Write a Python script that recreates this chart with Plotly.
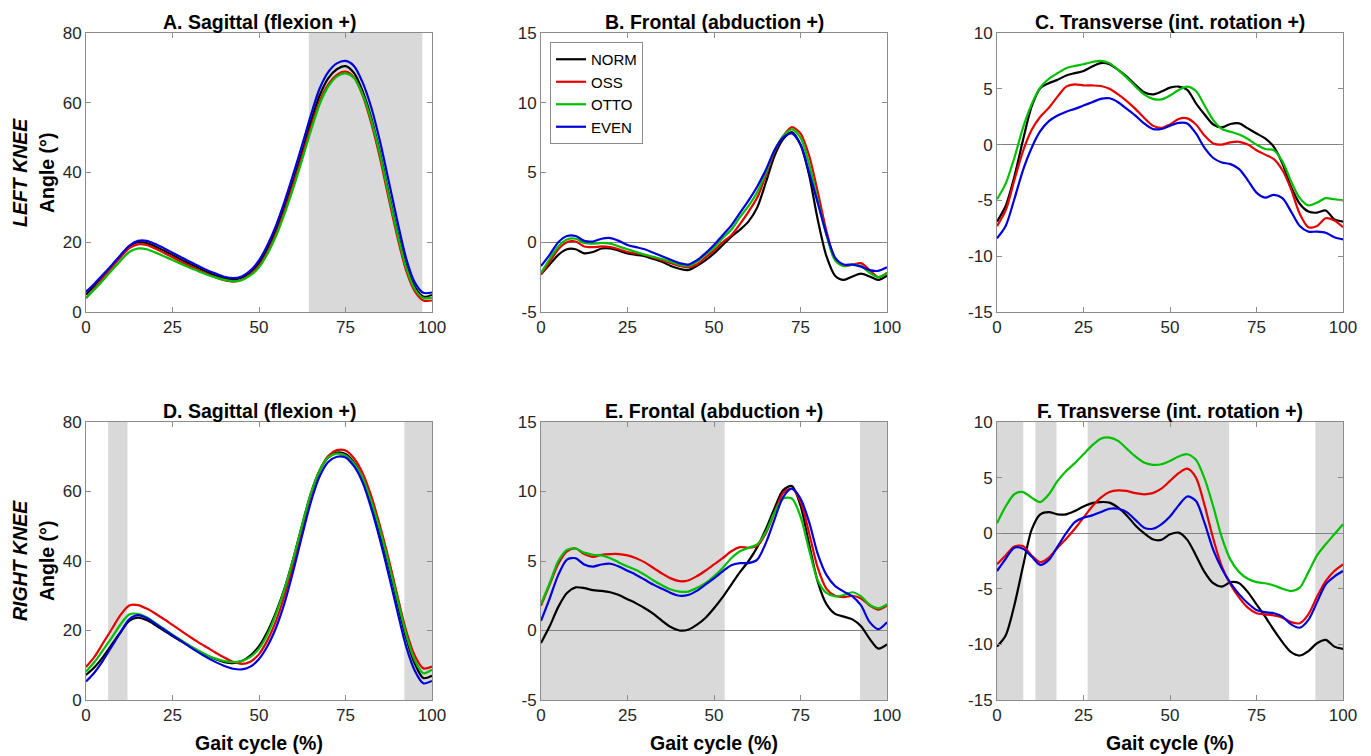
import plotly.graph_objects as go
from plotly.subplots import make_subplots

# ---------------- data ----------------
GAIT = [0, 2.5, 5, 7.5, 10, 12.5, 15, 17.5, 20, 22.5, 25, 27.5, 30, 32.5, 35, 37.5, 40,
        42.5, 45, 47.5, 50, 52.5, 55, 57.5, 60, 62.5, 65, 67.5, 70, 72.5, 75, 77.5, 80,
        82.5, 85, 87.5, 90, 92.5, 95, 97.5, 100]

GROUPS = ["NORM", "OSS", "OTTO", "EVEN"]

# A. Left knee sagittal
A_NORM = [5.0, 7.7, 10.5, 13.3, 16.2, 18.8, 20.0, 19.8, 18.8, 17.6, 16.3, 15.0, 13.8, 12.6, 11.5, 10.5, 9.7,
          9.3, 9.8, 11.4, 14.0, 18.3, 23.8, 30.5, 38.0, 46.0, 54.5, 62.0, 67.0, 69.6, 70.5, 68.5, 63.2,
          55.5, 45.5, 34.0, 23.0, 13.5, 7.2, 4.4, 4.9]
A_OSS = [4.0, 6.8, 9.8, 12.8, 15.7, 18.3, 19.4, 19.2, 18.2, 17.0, 15.7, 14.4, 13.2, 12.0, 10.9, 9.9, 9.1,
         8.7, 9.2, 10.7, 13.2, 17.3, 22.7, 29.3, 36.8, 44.8, 53.0, 60.3, 65.2, 68.0, 68.9, 67.2, 62.0,
         54.0, 44.0, 32.5, 21.5, 12.0, 6.0, 3.3, 3.3]
A_OTTO = [4.0, 6.5, 9.2, 12.0, 14.7, 17.2, 18.2, 18.0, 17.1, 16.0, 14.9, 13.8, 12.7, 11.7, 10.7, 9.9, 9.2,
          8.8, 9.2, 10.5, 12.8, 16.8, 22.0, 28.5, 35.8, 43.8, 52.0, 59.5, 64.6, 67.5, 68.4, 67.0, 62.3,
          54.8, 45.0, 33.5, 22.5, 12.8, 6.6, 4.0, 4.1]
A_EVEN = [5.8, 8.2, 10.8, 13.5, 16.3, 19.0, 20.4, 20.4, 19.5, 18.3, 17.0, 15.7, 14.4, 13.2, 12.0, 11.0, 10.1,
          9.7, 10.2, 11.9, 14.8, 19.3, 25.0, 32.0, 39.8, 48.0, 56.5, 64.0, 68.8, 71.3, 72.0, 70.5, 65.7,
          58.5, 48.8, 37.5, 26.0, 15.5, 8.5, 5.5, 5.6]

# B. Left knee frontal
B_NORM = [-2.3, -1.6, -0.9, -0.5, -0.5, -0.8, -0.7, -0.45, -0.45, -0.6, -0.8, -0.9, -1.0, -1.2, -1.4, -1.7, -1.9,
          -2.0, -1.7, -1.3, -0.8, -0.2, 0.4, 0.9, 1.5, 2.5, 4.3, 6.2, 7.4, 7.9, 7.0, 4.8, 1.6,
          -1.0, -2.4, -2.7, -2.45, -2.25, -2.45, -2.7, -2.4]
B_OSS = [-2.3, -1.4, -0.5, 0.0, 0.05, -0.3, -0.35, -0.3, -0.35, -0.5, -0.7, -0.8, -0.9, -1.1, -1.3, -1.5, -1.7,
         -1.8, -1.6, -1.1, -0.6, 0.0, 0.5, 1.3, 2.2, 3.2, 4.8, 6.5, 7.6, 8.25, 7.8, 6.2, 3.6,
         0.8, -1.2, -1.7, -1.6, -1.5, -2.0, -2.5, -2.2]
B_OTTO = [-2.2, -1.2, -0.3, 0.2, 0.25, -0.05, -0.1, -0.05, -0.1, -0.3, -0.5, -0.7, -0.9, -1.05, -1.2, -1.4, -1.6,
          -1.7, -1.4, -0.9, -0.4, 0.3, 0.9, 1.8, 2.6, 3.6, 5.0, 6.6, 7.6, 8.1, 7.5, 5.6, 3.0,
          0.5, -1.3, -1.7, -1.6, -1.7, -2.2, -2.5, -2.2]
B_EVEN = [-1.7, -0.9, 0.0, 0.45, 0.45, 0.1, 0.05, 0.25, 0.3, 0.1, -0.2, -0.35, -0.5, -0.75, -1.0, -1.25, -1.5,
          -1.6, -1.3, -0.8, -0.2, 0.5, 1.2, 2.1, 3.0, 4.0, 5.2, 6.6, 7.5, 7.8, 7.0, 5.0, 2.8,
          0.6, -1.1, -1.6, -1.6, -1.75, -2.0, -2.05, -1.8]

# C. Left knee transverse
C_NORM = [-6.9, -5.5, -2.9, 0.4, 3.4, 5.05, 5.5, 5.8, 6.2, 6.4, 6.6, 7.0, 7.3, 7.2, 6.7, 6.1, 5.35,
          4.7, 4.5, 4.75, 5.1, 5.2, 4.9, 3.7, 2.7, 1.8, 1.55, 1.85, 1.9, 1.45, 1.0, 0.55, -0.2,
          -1.7, -3.8, -5.3, -6.0, -6.1, -5.9, -6.7, -6.9]
C_OSS = [-7.3, -5.9, -3.2, -0.6, 1.3, 2.5, 3.3, 4.3, 5.2, 5.4, 5.3, 5.3, 5.25, 5.0, 4.5, 3.9, 3.2,
         2.4, 1.7, 1.5, 1.8, 2.3, 2.35, 1.8, 0.8, 0.1, 0.0, 0.2, 0.25, 0.0, -0.5, -0.9, -1.3,
         -2.3, -4.0, -6.2, -7.4, -7.3, -6.6, -6.8, -7.4]
C_OTTO = [-4.9, -3.5, -1.2, 1.5, 3.6, 5.1, 5.9, 6.4, 6.85, 7.05, 7.2, 7.4, 7.5, 7.3, 6.7, 6.0, 5.2,
          4.5, 4.1, 4.05, 4.4, 4.9, 5.2, 4.8, 3.5, 2.2, 1.4, 1.15, 0.9, 0.5, 0.0, -0.4, -0.5,
          -1.5, -3.3, -4.8, -5.45, -5.2, -4.8, -4.9, -5.0]
C_EVEN = [-8.4, -7.3, -4.9, -2.3, -0.3, 1.2, 2.1, 2.6, 2.95, 3.2, 3.5, 3.8, 4.1, 4.15, 3.8, 3.2, 2.6,
          1.9, 1.4, 1.4, 1.7, 1.95, 1.9, 1.0, -0.3, -1.2, -1.6, -1.75, -2.2, -3.2, -4.3, -4.75, -4.5,
          -4.8, -6.0, -7.3, -7.8, -7.8, -7.9, -8.3, -8.5]

# D. Right knee sagittal
D_NORM = [7.2, 9.5, 12.5, 16.0, 19.5, 22.8, 23.7, 23.0, 21.6, 20.0, 18.4, 16.9, 15.4, 14.0, 12.8, 11.7, 10.9,
          10.6, 11.2, 12.8, 15.5, 19.8, 25.5, 32.5, 41.0, 50.5, 59.5, 66.0, 69.8, 71.2, 70.8, 68.3, 63.6,
          56.5, 48.0, 38.5, 28.0, 18.0, 10.5, 6.3, 7.0]
D_OSS = [9.5, 12.5, 16.5, 20.5, 24.5, 27.2, 27.3, 26.3, 24.9, 23.3, 21.6, 19.9, 18.2, 16.6, 15.1, 13.6, 12.2,
         11.0, 10.4, 11.0, 13.2, 17.3, 23.0, 30.5, 39.5, 49.5, 59.0, 66.0, 70.2, 71.9, 71.8, 69.5, 65.2,
         58.5, 50.0, 40.5, 30.0, 20.0, 12.8, 9.1, 9.6]
D_OTTO = [8.2, 11.0, 14.5, 18.0, 21.8, 24.6, 24.8, 23.8, 22.2, 20.5, 18.8, 17.2, 15.6, 14.2, 12.9, 11.9, 11.2,
          10.9, 11.2, 12.4, 14.8, 19.0, 25.0, 32.3, 41.0, 50.5, 59.5, 66.0, 69.8, 70.9, 70.4, 68.0, 63.8,
          57.0, 48.8, 39.3, 29.0, 19.0, 11.5, 7.7, 8.7]
D_EVEN = [5.3, 8.0, 11.5, 15.5, 19.5, 23.2, 24.4, 23.6, 22.0, 20.3, 18.6, 17.0, 15.3, 13.7, 12.2, 10.9, 9.8,
          9.0, 8.8, 9.6, 11.8, 15.6, 21.0, 28.3, 37.5, 47.5, 57.0, 64.3, 68.5, 70.0, 69.8, 67.2, 62.5,
          55.0, 46.0, 36.0, 25.5, 15.5, 8.5, 4.8, 5.5]

# E. Right knee frontal
E_NORM = [-0.9, 0.3, 1.7, 2.7, 3.1, 3.05, 2.9, 2.85, 2.75, 2.55, 2.25, 1.95, 1.6, 1.2, 0.7, 0.25, 0.0,
          0.05, 0.4, 0.9, 1.6, 2.4, 3.3, 4.2, 5.0, 6.0, 7.3, 8.8, 10.1, 10.4, 9.0, 6.2, 3.5,
          1.9, 1.2, 1.0, 0.8, 0.3, -0.6, -1.3, -1.0]
E_OSS = [1.8, 3.3, 4.8, 5.7, 5.9, 5.5, 5.3, 5.45, 5.5, 5.5, 5.4, 5.2, 4.9, 4.5, 4.1, 3.75, 3.55,
         3.6, 3.9, 4.3, 4.75, 5.2, 5.7, 6.0, 5.95, 6.1, 7.0, 8.5, 9.9, 10.2, 9.3, 7.0, 4.5,
         3.0, 2.5, 2.4, 2.5, 2.3, 1.8, 1.5, 1.8]
E_OTTO = [1.9, 3.4, 5.0, 5.8, 5.9, 5.6, 5.45, 5.4, 5.2, 4.9, 4.6, 4.35, 4.0, 3.6, 3.25, 2.95, 2.8,
          2.8, 3.05, 3.4, 3.9, 4.5, 5.2, 5.7, 5.95, 6.2, 7.1, 8.5, 9.5, 9.5, 8.2, 5.8, 3.6,
          2.7, 2.45, 2.55, 2.75, 2.45, 1.85, 1.6, 1.9]
E_EVEN = [0.7, 2.3, 4.0, 5.1, 5.2, 4.75, 4.6, 4.75, 4.8, 4.6, 4.3, 4.0, 3.65, 3.3, 3.0, 2.7, 2.5,
          2.55, 2.85, 3.3, 3.75, 4.25, 4.7, 4.85, 4.85, 5.1, 6.3, 8.0, 9.6, 10.2, 9.5, 7.8, 5.5,
          4.0, 3.2, 2.8, 2.45, 1.8, 0.6, 0.1, 0.6]

# F. Right knee transverse
F_NORM = [-10.2, -9.2, -6.5, -3.0, 0.3, 1.7, 1.9, 1.7, 1.7, 2.0, 2.4, 2.7, 2.8, 2.75, 2.3, 1.6, 0.7,
          0.0, -0.55, -0.6, -0.1, 0.05, -0.6, -2.0, -3.5, -4.5, -4.8, -4.4, -4.5, -5.3, -6.4, -7.5, -8.7,
          -9.8, -10.7, -11.0, -10.6, -9.9, -9.6, -10.2, -10.4]
F_OSS = [-2.8, -2.0, -1.2, -1.15, -2.0, -2.6, -2.2, -1.3, -0.5, 0.4, 1.4, 2.4, 3.2, 3.7, 3.85, 3.8, 3.6,
         3.5, 3.6, 4.0, 4.7, 5.4, 5.8, 5.0, 2.5, -0.5, -3.0, -4.6, -5.8, -6.7, -7.2, -7.3, -7.4,
         -7.6, -8.0, -8.1, -7.3, -5.7, -4.3, -3.4, -2.8]
F_OTTO = [0.9, 2.4, 3.5, 3.7, 3.2, 2.8, 3.5, 4.7, 5.6, 6.3, 7.1, 7.9, 8.5, 8.6, 8.3, 7.6, 6.9,
          6.35, 6.15, 6.2, 6.5, 6.9, 7.1, 6.6, 4.9, 2.4, -0.4, -2.4, -3.5, -4.1, -4.4, -4.5, -4.7,
          -5.0, -5.2, -4.9, -3.5, -2.0, -1.0, -0.1, 0.8]
F_EVEN = [-3.4, -2.3, -1.3, -1.4, -2.1, -2.85, -2.4, -1.2, 0.0, 1.0, 1.4, 1.6, 1.9, 2.2, 2.2, 1.9, 1.2,
          0.5, 0.4, 0.8, 1.5, 2.5, 3.3, 2.9, 0.9, -1.5, -3.2, -4.5, -5.5, -6.3, -6.9, -7.1, -7.2,
          -7.5, -8.2, -8.5, -7.8, -6.2, -4.6, -3.9, -3.4]

# shaded (significant) intervals, gait cycle %
A_SHADE = [(64.4, 97.2)]
B_SHADE = []
C_SHADE = []
D_SHADE = [(6.4, 12.0), (92.0, 100)]
E_SHADE = [(0, 53.1), (92.2, 100)]
F_SHADE = [(0, 7.6), (11.1, 17.2), (26.2, 67.1), (92.0, 100)]

TITLES = ["A. Sagittal (flexion +)", "B. Frontal (abduction +)", "C. Transverse (int. rotation +)",
          "D. Sagittal (flexion +)", "E. Frontal (abduction +)", "F. Transverse (int. rotation +)"]

X_TICKS = [0, 25, 50, 75, 100]
Y_TICKS_SAG = [0, 20, 40, 60, 80]
Y_TICKS_FRO = [-5, 0, 5, 10, 15]
Y_TICKS_TRA = [-15, -10, -5, 0, 5, 10]

COLORS = {"NORM": "#000000", "OSS": "#e60000", "OTTO": "#00c000", "EVEN": "#0000dc"}

# ---------------- figure ----------------
W, H = 1371, 756
FONT = "Liberation Sans, Arial, sans-serif"
TITLE_SIZE = 19.5

fig = make_subplots(rows=2, cols=3)

panels = [
    (1, 1, [A_NORM, A_OSS, A_OTTO, A_EVEN], A_SHADE, Y_TICKS_SAG),
    (1, 2, [B_NORM, B_OSS, B_OTTO, B_EVEN], B_SHADE, Y_TICKS_FRO),
    (1, 3, [C_NORM, C_OSS, C_OTTO, C_EVEN], C_SHADE, Y_TICKS_TRA),
    (2, 1, [D_NORM, D_OSS, D_OTTO, D_EVEN], D_SHADE, Y_TICKS_SAG),
    (2, 2, [E_NORM, E_OSS, E_OTTO, E_EVEN], E_SHADE, Y_TICKS_FRO),
    (2, 3, [F_NORM, F_OSS, F_OTTO, F_EVEN], F_SHADE, Y_TICKS_TRA),
]

col_px = [(86, 432), (541, 887), (997, 1343)]
row_px = [(33, 312), (422, 700)]

axis_col = "#8c8c8c"
tick_font = dict(family=FONT, size=17, color="#262626")

annotations = []
shapes = []
for idx, (r, c, series, shades, yt) in enumerate(panels):
    for name, vals in zip(GROUPS, series):
        fig.add_trace(go.Scatter(
            x=GAIT, y=vals, mode="lines", name=name,
            line=dict(color=COLORS[name], width=2.2, shape="spline", smoothing=0.8),
            showlegend=(idx == 1), legendgroup=name, hoverinfo="skip",
        ), row=r, col=c)
    n = idx + 1
    xref = "x" if n == 1 else f"x{n}"
    yref = "y" if n == 1 else f"y{n}"
    for (s0, s1) in shades:
        shapes.append(dict(type="rect", xref=xref, yref=f"{yref} domain", x0=s0, x1=s1, y0=0, y1=1,
                           fillcolor="#d9d9d9", line=dict(width=0), layer="below"))
    x0p, x1p = col_px[c - 1]
    y0p, y1p = row_px[r - 1]
    xdom = [x0p / W, x1p / W]
    ydom = [1 - y1p / H, 1 - y0p / H]
    fig.update_xaxes(domain=xdom, range=[0, 100], tickvals=X_TICKS, ticktext=[str(v) for v in X_TICKS],
                     showline=True, mirror="ticks", linecolor=axis_col, linewidth=1,
                     ticks="inside", ticklen=5, tickcolor=axis_col, showgrid=False, zeroline=False,
                     automargin=False, tickfont=tick_font, row=r, col=c)
    fig.update_yaxes(domain=ydom, range=[yt[0], yt[-1]], tickvals=yt, ticktext=[str(v) for v in yt],
                     showline=True, mirror="ticks", linecolor=axis_col, linewidth=1,
                     ticks="inside", ticklen=5, tickcolor=axis_col, showgrid=False,
                     zeroline=(yt[0] < 0), zerolinecolor="#808080", zerolinewidth=1.2,
                     automargin=False, tickfont=tick_font, row=r, col=c)
    # panel title
    annotations.append(dict(text=f"<b>{TITLES[idx]}</b>", x=(xdom[0] + xdom[1]) / 2,
                            y=1 - (y0p - 11) / H, xref="paper", yref="paper",
                            xanchor="center", yanchor="middle", showarrow=False,
                            font=dict(family=FONT, size=TITLE_SIZE, color="#000000")))
    if r == 2:
        annotations.append(dict(text="<b>Gait cycle (%)</b>", x=(xdom[0] + xdom[1]) / 2,
                                y=1 - 743 / H, xref="paper", yref="paper",
                                xanchor="center", yanchor="middle", showarrow=False,
                                font=dict(family=FONT, size=TITLE_SIZE, color="#000000")))

ROW_LABELS = ["LEFT KNEE", "RIGHT KNEE"]
row_centers = [173, 561]
for lab, yc in zip(ROW_LABELS, row_centers):
    annotations.append(dict(text=f"<b><i>{lab}</i></b>", x=20 / W, y=1 - yc / H, xref="paper", yref="paper",
                            xanchor="center", yanchor="middle", textangle=-90, showarrow=False,
                            font=dict(family=FONT, size=TITLE_SIZE, color="#000000")))
    annotations.append(dict(text="<b>Angle (°)</b>", x=47 / W, y=1 - yc / H, xref="paper", yref="paper",
                            xanchor="center", yanchor="middle", textangle=-90, showarrow=False,
                            font=dict(family=FONT, size=TITLE_SIZE, color="#000000")))

fig.update_layout(
    width=W, height=H, autosize=False,
    margin=dict(l=0, r=0, t=0, b=0, pad=0, autoexpand=False),
    paper_bgcolor="white", plot_bgcolor="white",
    font=dict(family=FONT, size=17, color="#000000"),
    annotations=annotations, shapes=shapes,
    legend=dict(x=550 / W, y=1 - 42 / H, xanchor="left", yanchor="top",
                bgcolor="white", bordercolor="#8c8c8c", borderwidth=1,
                font=dict(family=FONT, size=15, color="#000000"),
                itemwidth=30, tracegroupgap=0),
)

fig.write_html(
    "out.html",
    config={"displayModeBar": False},
    post_script="document.body.style.margin='0px';document.body.style.overflow='hidden';",
)
